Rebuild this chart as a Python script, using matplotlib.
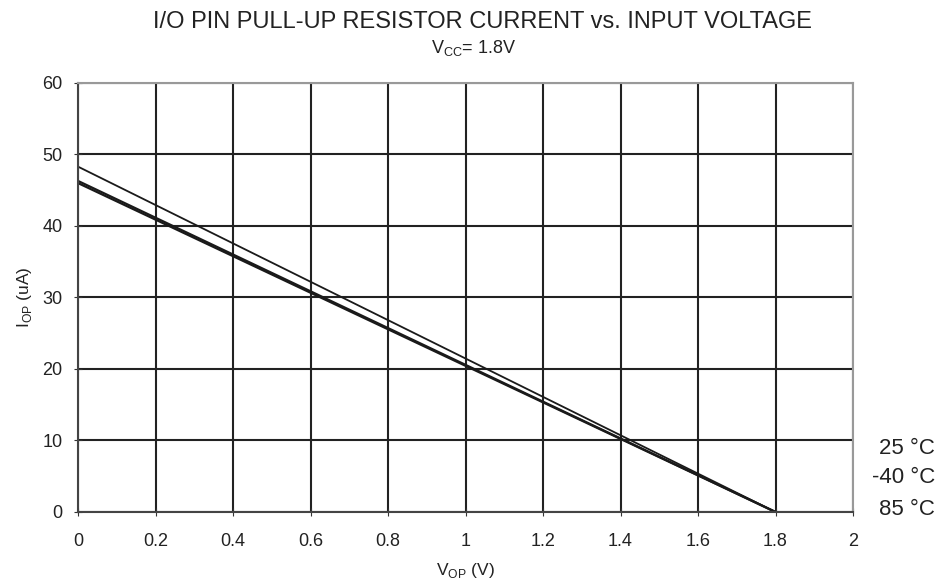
import matplotlib
matplotlib.use('Agg')
import matplotlib.pyplot as plt

plt.rcParams['font.family'] = ['Liberation Sans', 'DejaVu Sans']

vop = [0.0, 1.8]
i_25 = [48.3, 0.0]
i_m40 = [46.3, 0.0]
i_85 = [46.0, 0.0]
labels = ['25 °C', '-40 °C', '85 °C']
label_y = [8.9, 4.8, 0.4]

fig = plt.figure(figsize=(9.48, 5.86), dpi=100)
ax = fig.add_axes([0.0823, 0.1263, 0.8175, 0.7321])

ax.plot(vop, i_25, color='#1a1a1a', lw=1.3)
ax.plot(vop, i_m40, color='#1a1a1a', lw=1.6)
ax.plot(vop, i_85, color='#1a1a1a', lw=1.6)

ax.set_xlim(0, 2)
ax.set_ylim(0, 60)
ax.set_xticks([0, 0.2, 0.4, 0.6, 0.8, 1, 1.2, 1.4, 1.6, 1.8, 2])
ax.set_xticklabels(['0', '0.2', '0.4', '0.6', '0.8', '1', '1.2', '1.4', '1.6', '1.8', '2'])
ax.set_yticks(range(0, 61, 10))
ax.grid(True, color='#222222', lw=1.5)
ax.set_axisbelow(True)
ax.tick_params(labelsize=13, color='#333333', length=6, direction='inout', labelcolor='#222222')
ax.tick_params(axis='x', pad=12)
ax.tick_params(axis='y', pad=8)
for s in ['top', 'right']:
    ax.spines[s].set_color('#999999')
    ax.spines[s].set_linewidth(1.5)
for s in ['left', 'bottom']:
    ax.spines[s].set_color('#444444')
    ax.spines[s].set_linewidth(1.5)

ax.set_xlabel('V$_\\mathregular{OP}$ (V)', fontsize=12.5, labelpad=8, color='#222222')
ax.set_ylabel('I$_\\mathregular{OP}$ (uA)', fontsize=12.5, labelpad=6, color='#222222')

for t, y in zip(labels, label_y):
    ax.text(1.106, y, t, transform=ax.get_yaxis_transform(), fontsize=16,
            ha='right', va='center', color='#222222')

fig.text(0.509, 0.963, 'I/O PIN PULL-UP RESISTOR CURRENT vs. INPUT VOLTAGE',
         ha='center', va='center', fontsize=17, color='#222222')
fig.text(0.5, 0.918, 'V$_\\mathregular{CC}$= 1.8V', ha='center', va='center',
         fontsize=13, color='#222222')

fig.savefig('out.png', dpi=100)
